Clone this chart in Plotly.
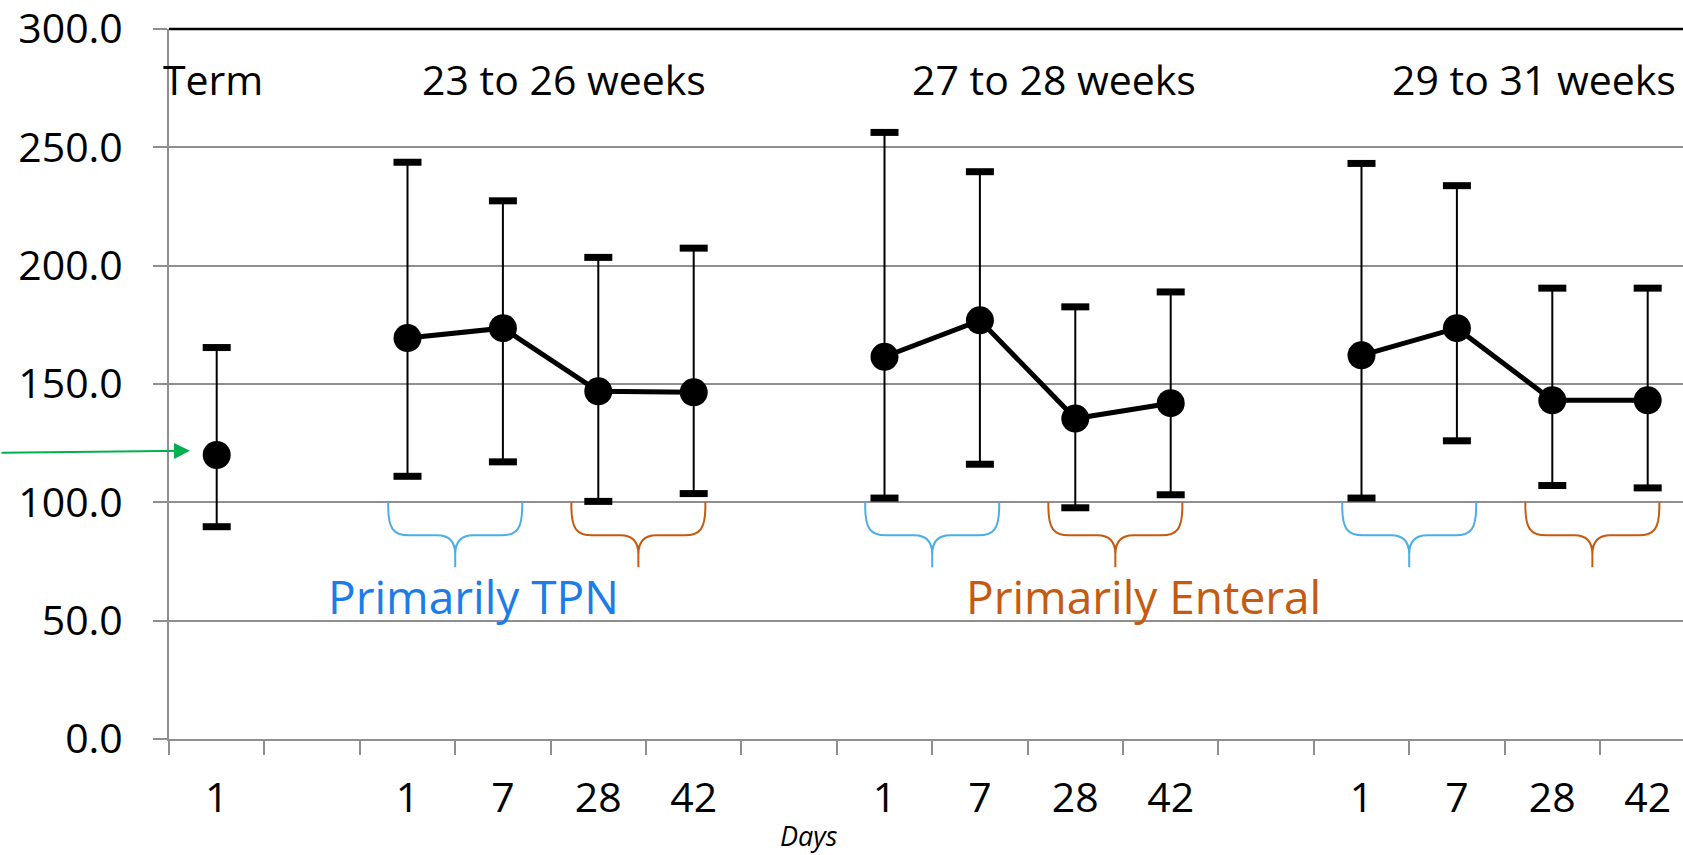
import plotly.graph_objects as go

# ---------------- data ----------------
group_titles = ["Term", "23 to 26 weeks", "27 to 28 weeks", "29 to 31 weeks"]
day_labels = ["1", "", "1", "7", "28", "42", "", "1", "7", "28", "42", "", "1", "7", "28", "42"]
means = [120.0, None, 169.4, 173.6, 146.9, 146.5, None, 161.5, 176.9, 135.4, 141.9, None, 162.1, 173.6, 143.1, 143.1]
upper = [165.4, None, 243.7, 227.4, 203.5, 207.4, None, 256.3, 239.7, 182.6, 188.9, None, 243.2, 233.8, 190.5, 190.5]
lower = [89.7, None, 111.0, 117.1, 100.4, 103.7, None, 101.8, 116.1, 97.7, 103.2, None, 101.8, 126.0, 107.1, 106.1]
y_ticks = [0, 50, 100, 150, 200, 250, 300]
group_starts = [2, 7, 12]

# ---------------- derived ----------------
xs = list(range(len(day_labels)))
err_plus = [None if m is None else u - m for m, u in zip(means, upper)]
err_minus = [None if m is None else m - l for m, l in zip(means, lower)]
cap_x = [x for x, m in zip(xs, means) if m is not None]
cap_up = [u for u in upper if u is not None]
cap_lo = [l for l in lower if l is not None]

FONT = "Open Sans"
GRID = "#8f8f8f"
BLUE_TXT = "#1a7de8"
BLUE_BR = "#4aaeea"
ORANGE = "#c55a11"

fig = go.Figure()

# mean line + markers + error stems
fig.add_trace(go.Scatter(
    x=xs, y=means, mode="lines+markers",
    line=dict(color="black", width=5),
    marker=dict(color="black", size=28, line=dict(width=0)),
    error_y=dict(type="data", symmetric=False, array=err_plus, arrayminus=err_minus,
                 color="black", thickness=2, width=0),
    connectgaps=False, showlegend=False, hoverinfo="skip",
))
# caps
for yy in (cap_up, cap_lo):
    fig.add_trace(go.Scatter(
        x=cap_x, y=yy, mode="markers",
        marker=dict(symbol="line-ew", size=20, color="black",
                    line=dict(color="black", width=7)),
        showlegend=False, hoverinfo="skip",
    ))
# dummy trace for boundary tick axis
fig.add_trace(go.Scatter(x=[None], y=[None], xaxis="x2", showlegend=False, hoverinfo="skip"))

xrange = [-0.5, 15.37]

# braces
def brace(cx, color):
    path = ("M -67,0 L -67,-4 C -67,-26 -62,-33 -46,-33 L -18,-33 "
            "C -6,-33 0,-40 0,-52 L 0,-65 M 0,-52 "
            "C 0,-40 6,-33 18,-33 L 46,-33 C 62,-33 67,-26 67,-4 L 67,0")
    return dict(type="path", xref="x", yref="y", xsizemode="pixel", ysizemode="pixel",
                xanchor=cx, yanchor=100, path=path,
                line=dict(color=color, width=2), layer="above")

shapes = []
for g in group_starts:
    shapes.append(brace(g + 0.5, BLUE_BR))
    shapes.append(brace(g + 2.42, ORANGE))
shapes.append(dict(type="line", xref="paper", yref="paper", x0=0, x1=1, y0=1, y1=1,
                   line=dict(color="black", width=2.5), layer="above"))

title_font = dict(family=FONT, size=41, color="black")
annotations = [
    dict(xref="paper", x=-0.0055, y=278.7, text=group_titles[0], xanchor="left", yanchor="middle",
         showarrow=False, font=title_font),
    dict(x=3.64, y=278.7, text=group_titles[1], xanchor="center", yanchor="middle", showarrow=False,
         font=title_font),
    dict(x=8.78, y=278.7, text=group_titles[2], xanchor="center", yanchor="middle", showarrow=False,
         font=title_font),
    dict(x=13.81, y=278.7, text=group_titles[3], xanchor="center", yanchor="middle", showarrow=False,
         font=title_font),
    dict(x=2.69, y=60.3, text="Primarily TPN", xanchor="center", yanchor="middle", showarrow=False,
         font=dict(family=FONT, size=46, color=BLUE_TXT)),
    dict(x=9.72, y=60.3, text="Primarily Enteral", xanchor="center", yanchor="middle", showarrow=False,
         font=dict(family=FONT, size=46, color=ORANGE)),
    dict(xref="paper", yref="paper", x=0.423, y=-0.1366, text="<i>Days</i>", xanchor="center",
         yanchor="middle", showarrow=False, font=dict(family=FONT, size=27, color="black")),
    dict(x=-0.28, y=121.8, ax=-190, ay=2, text="", showarrow=True,
         arrowhead=2, arrowsize=1.6, arrowwidth=2, arrowcolor="#00b050"),
]

fig.update_layout(
    width=1683, height=855,
    margin=dict(l=169, r=0, t=29, b=116, pad=0),
    paper_bgcolor="white", plot_bgcolor="white",
    font=dict(family=FONT, color="black"),
    xaxis=dict(
        type="linear", range=xrange, tickmode="array", tickvals=xs, ticktext=day_labels,
        ticks="", showgrid=False, zeroline=False, showline=True, linecolor=GRID, linewidth=2,
        tickfont=dict(family=FONT, size=41, color="black"), ticklabelstandoff=22,
        ticklabeloverflow="allow",
    ),
    xaxis2=dict(
        overlaying="x", anchor="y", side="bottom", range=xrange, tickmode="array",
        tickvals=[i - 0.5 for i in range(len(day_labels) + 1)],
        ticks="outside", ticklen=15, tickwidth=2, tickcolor=GRID,
        showticklabels=False, showgrid=False, zeroline=False, showline=False,
    ),
    yaxis=dict(
        range=[0, 300], tickmode="array", tickvals=y_ticks, tickformat=".1f",
        ticks="outside", ticklen=14, tickwidth=2, tickcolor=GRID,
        showgrid=True, gridcolor=GRID, gridwidth=2, zeroline=False,
        showline=True, linecolor=GRID, linewidth=2,
        tickfont=dict(family=FONT, size=41, color="black"), ticklabelstandoff=22,
        ticklabeloverflow="allow",
    ),
    shapes=shapes, annotations=annotations,
)

fig.write_html("out.html")
